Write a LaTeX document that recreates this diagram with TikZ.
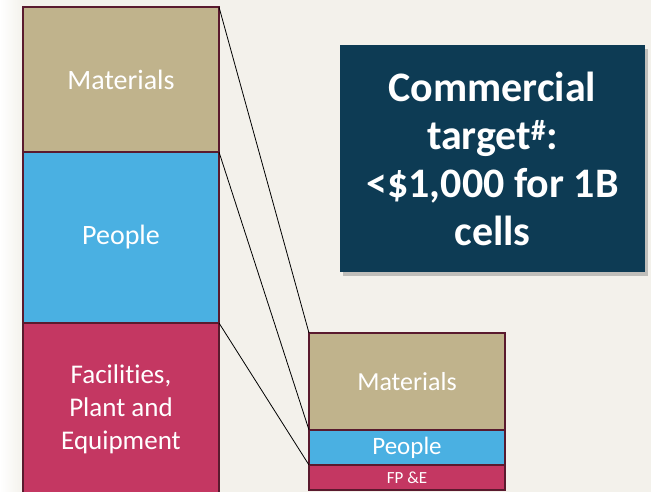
\documentclass[tikz,border=0pt]{standalone}
\usepackage{fontspec}
\setmainfont{Carlito}[Ligatures=NoCommon]
\usetikzlibrary{shadows}

\definecolor{bgcream}{HTML}{F3F1EB}
\definecolor{edgemaroon}{HTML}{5A1A2E}
\definecolor{mattan}{HTML}{C0B38C}
\definecolor{pplblue}{HTML}{4AB0E2}
\definecolor{fpered}{HTML}{C43762}
\definecolor{navybox}{HTML}{0D3B54}

\begin{document}
\begin{tikzpicture}[x=1pt,y=-1pt]
	\tikzset{bar/.style={draw=edgemaroon,line width=2pt,outer sep=0pt,inner sep=0pt,
			text=white,align=center,minimum width=\colwidth}}
	
	% Width of each column and left edges
	\def\colwidth{196}
	\def\leftx{121}
	\def\rightx{407}
	
	% Background
	\fill[bgcream] (0,0) rectangle (651,492);
	\shade[left color=white,right color=bgcream] (0,0) rectangle (24,492);
	\useasboundingbox (0,0) rectangle (651,492);
	\clip (0,0) rectangle (651,492);
	
	% Left column: current cost split
	\node[bar,fill=mattan,minimum height=145,font=\fontsize{28}{32}\selectfont] (matL) at (\leftx,79.5) {Materials};
	\node[bar,fill=pplblue,minimum height=171,font=\fontsize{28}{32}\selectfont] (pplL) at (\leftx,237.5) {People};
	\node[bar,fill=fpered,minimum height=173,font=\fontsize{27}{33}\selectfont] (fpeL) at (\leftx,409.5) {Facilities,\\Plant and\\Equipment};
	
	% Right column: target cost split
	\node[bar,fill=mattan,minimum height=97,font=\fontsize{26}{30}\selectfont] (matR) at (\rightx,381.5) {Materials};
	\node[bar,fill=pplblue,minimum height=35,font=\fontsize{25}{28}\selectfont] (pplR) at (\rightx,447.5) {People};
	\node[bar,fill=fpered,minimum height=25,font=\fontsize{17}{20}\selectfont] (fpeR) at (\rightx,477.5) {FP \&E};
	
	% Lines joining the tops of the matching blocks
	\draw[black,line width=0.8pt] (matL.north east) -- (matR.north west);
	\draw[black,line width=0.8pt] (pplL.north east) -- (pplR.north west);
	\draw[black,line width=0.8pt] (fpeL.north east) -- (fpeR.north west);
	
	% Target box
	\node[fill=navybox,text=white,align=center,minimum width=305,minimum height=227,
		drop shadow={shadow xshift=3pt,shadow yshift=-4pt,opacity=0.45},
		font=\bfseries\fontsize{42}{48}\selectfont] (target) at (492.5,158.5)
		{Commercial\\target\textsuperscript{\#}:\\<\$1,000 for 1B\\cells};
	
\end{tikzpicture}
\end{document}
